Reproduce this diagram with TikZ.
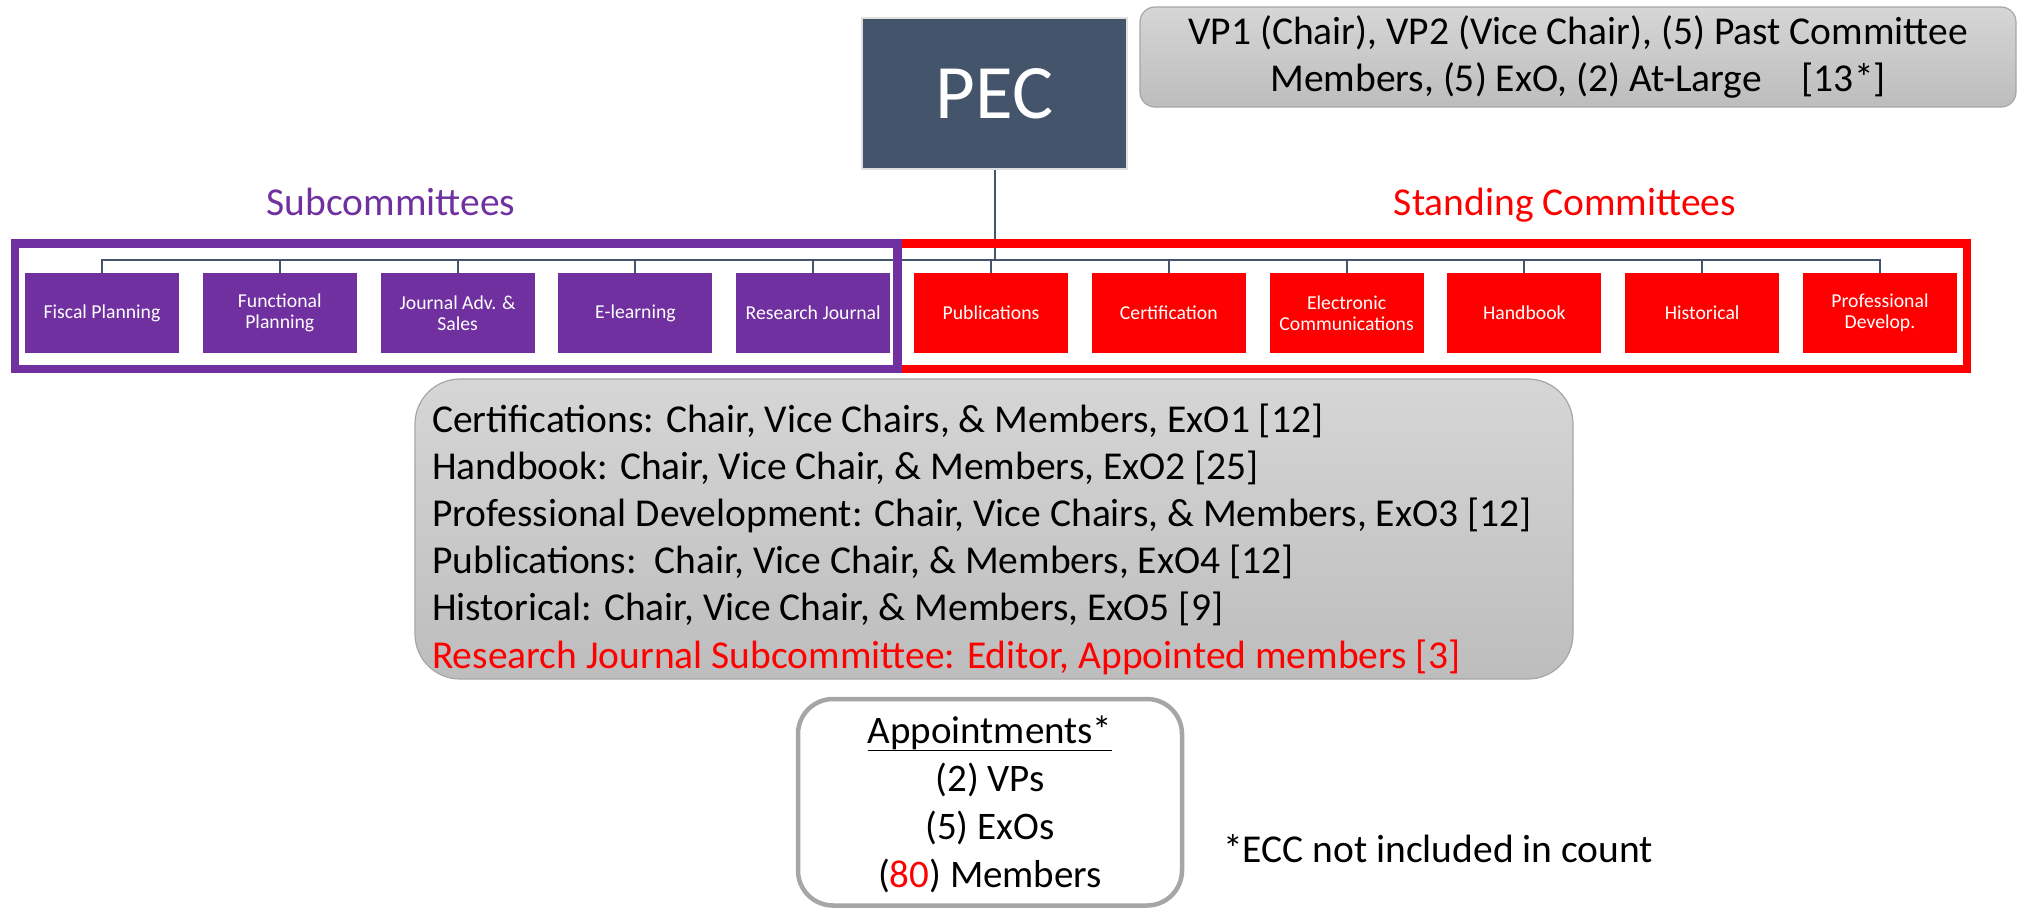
\documentclass[tikz,border=0pt]{standalone}
\usepackage{fontspec}
\setmainfont{Carlito}
\definecolor{pecc}{HTML}{44546A}
\definecolor{purp}{HTML}{7030A0}
\definecolor{redc}{HTML}{FF0000}
\definecolor{gtop}{HTML}{D6D6D6}
\definecolor{gbot}{HTML}{BDBDBD}
\definecolor{gedge}{HTML}{A6A6A6}
\definecolor{pecedge}{HTML}{E0E0E0}
\tikzset{
  unitbox/.style={minimum width=154pt, minimum height=80pt, inner sep=2pt, text=white,
    align=center, font=\fontsize{19.7}{21}\selectfont},
  pbox/.style={unitbox, fill=purp},
  rbox/.style={unitbox, fill=redc},
  conn/.style={draw=pecc, line width=2pt},
  grpframe/.style={line width=8.5pt, inner sep=0pt, minimum height=125.5pt},
  graybox/.style={top color=gtop, bottom color=gbot, draw=gedge, line width=1.2pt, inner sep=0pt},
  bigfont/.style={font=\fontsize{39.5}{47.2}\selectfont},
  headfont/.style={font=\fontsize{39.5}{46}\selectfont, anchor=base}
}
\begin{document}
\begin{tikzpicture}[x=1pt,y=-1pt]
\useasboundingbox (0,0) rectangle (2022,908);

% PEC
\node[fill=pecc, draw=pecedge, line width=1.5pt, minimum width=265pt, minimum height=151pt,
  text=white, font=\fontsize{77}{80}\selectfont, inner sep=0pt] (pec) at (994.5,93.5) {PEC};

% top right info
\node[graybox, rounded corners=15pt, minimum width=876pt, minimum height=100pt,
  font=\fontsize{39.5}{47}\selectfont, align=center] (vp) at (1578,57)
  {VP1 (Chair), VP2 (Vice Chair), (5) Past Committee\\Members, (5) ExO, (2) At-Large\hspace{31pt} [13*]};

% group labels
\node[headfont, text=purp] (subl) at (391,215) {Subcommittees};
\node[headfont, text=redc] (stdl) at (1565,215) {Standing Committees};

% boxes
\node[pbox] (b0) at (102,313) {Fiscal Planning};
\node[pbox] (b1) at (279.8,313) {Functional\\Planning};
\node[pbox] (b2) at (457.6,313) {Journal Adv. \&\\Sales};
\node[pbox] (b3) at (635.4,313) {E-learning};
\node[pbox] (b4) at (813.2,313) {Research Journal};
\node[rbox] (b5) at (991,313) {Publications};
\node[rbox] (b6) at (1168.8,313) {Certification};
\node[rbox] (b7) at (1346.6,313) {Electronic\\Communications};
\node[rbox] (b8) at (1524.4,313) {Handbook};
\node[rbox] (b9) at (1702.2,313) {Historical};
\node[rbox] (b10) at (1880,313) {Professional\\Develop.};

% connectors
\coordinate (busL) at (102,260);
\draw[conn] (pec.south) -- (pec.south |- busL);
\draw[conn] (b0.north) -- (b0.north |- busL) -- (b10.north |- busL) -- (b10.north);
\foreach \i in {1,...,9} \draw[conn] (b\i.north |- busL) -- (b\i.north);

% group frames
\node[grpframe, draw=redc, minimum width=1069.5pt] (stdframe) at (1432.25,306.25) {};
\node[grpframe, draw=purp, minimum width=882.5pt] (subframe) at (456.25,306.25) {};

% big info box
\node[graybox, rounded corners=45pt, minimum width=1158pt, minimum height=300pt] (info) at (994,529) {};
\node[bigfont, anchor=base west, align=left, inner sep=0pt] (infotext) at (432,668)
  {Certifications: Chair, Vice Chairs, \& Members, ExO1 [12]\\
   Handbook: Chair, Vice Chair, \& Members, ExO2 [25]\\
   Professional Development: Chair, Vice Chairs, \& Members, ExO3 [12]\\
   Publications:\ \ Chair, Vice Chair, \& Members, ExO4 [12]\\
   Historical: Chair, Vice Chair, \& Members, ExO5 [9]\\
   \textcolor{redc}{Research Journal Subcommittee: Editor, Appointed members [3]}};

% appointments
\node[draw=gedge, line width=4.5pt, rounded corners=35pt, minimum width=384pt,
  minimum height=206.5pt, fill=white] (appt) at (990,802.25) {};
\node[font=\fontsize{39}{48}\selectfont, align=center, anchor=base, inner sep=0pt] (appttext) at (990,887)
  {\underline{Appointments*}\\(2) VPs\\(5) ExOs\\(\textcolor{redc}{80}) Members};

\node[bigfont, anchor=base west, inner sep=0pt] (ecc) at (1223,862) {*ECC not included in count};
\end{tikzpicture}
\end{document}
